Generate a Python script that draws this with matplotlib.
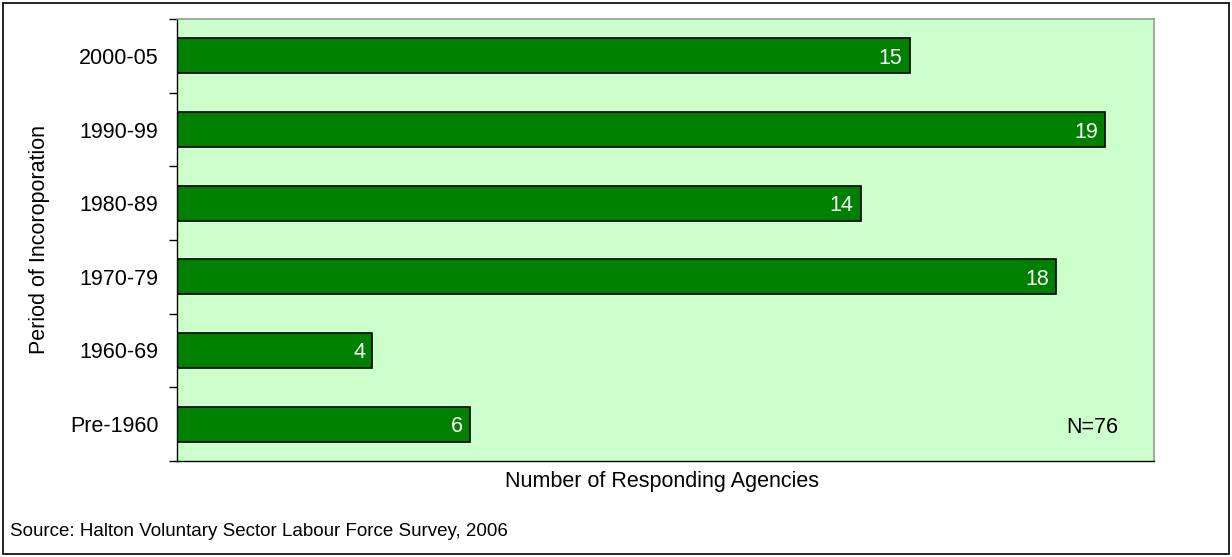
import matplotlib.pyplot as plt
from matplotlib.patches import Rectangle

plt.rcParams['font.family'] = ['Liberation Sans', 'DejaVu Sans']

periods = ['Pre-1960', '1960-69', '1970-79', '1980-89', '1990-99', '2000-05']
agencies = [6, 4, 18, 14, 19, 15]

W, H = 1232, 557
fig = plt.figure(figsize=(W / 100, H / 100), dpi=100)
ax = fig.add_axes([177 / W, 1 - 461 / H, (1154 - 177) / W, (461 - 19) / H])
ax.set_facecolor('#CCFFCC')

pos = list(range(len(periods)))
ax.barh(pos, agencies, height=0.476, color='#008000', edgecolor='black', linewidth=1.2)

for y, v in zip(pos, agencies):
    ax.text(v - 0.15, y, str(v), color='white', fontsize=15.5, ha='right',
            va='center_baseline')

ax.set_xlim(0, 20)
ax.set_ylim(-0.5, len(periods) - 0.5)
ax.set_xticks([])
ax.set_yticks(pos)
ax.set_yticklabels(periods, fontsize=15.5)
ax.set_yticks([p - 0.5 for p in range(len(periods) + 1)], minor=True)
ax.tick_params(axis='y', which='major', length=0, pad=13.5)
ax.tick_params(axis='y', which='minor', length=6, width=1, color='black', direction='out')

for side in ['top', 'right']:
    ax.spines[side].set_color('#999999')
    ax.spines[side].set_linewidth(1.2)
for side in ['left', 'bottom']:
    ax.spines[side].set_color('black')
    ax.spines[side].set_linewidth(1.0)

# axis titles placed in pixel terms of the figure
fig.text(662 / W, 1 - 482 / H, 'Number of Responding Agencies', fontsize=15.5,
         ha='center', va='center')
fig.text(40 / W, 1 - 240 / H, 'Period of Incoroporation', fontsize=15.5,
         rotation=90, ha='center', va='center')

ax.text(0.963, 0.075, 'N=76', transform=ax.transAxes, fontsize=15.5, ha='right', va='center')

fig.text(10 / W, 1 - 532 / H, 'Source: Halton Voluntary Sector Labour Force Survey, 2006',
         fontsize=13.5, ha='left', va='center')

# outer frame around the whole chart
fig.patches.append(Rectangle((3 / W, 3 / H), 1 - 6 / W, 1 - 6 / H,
                             transform=fig.transFigure, fill=False,
                             edgecolor='black', linewidth=1.2))

fig.savefig('out.png', dpi=100)
